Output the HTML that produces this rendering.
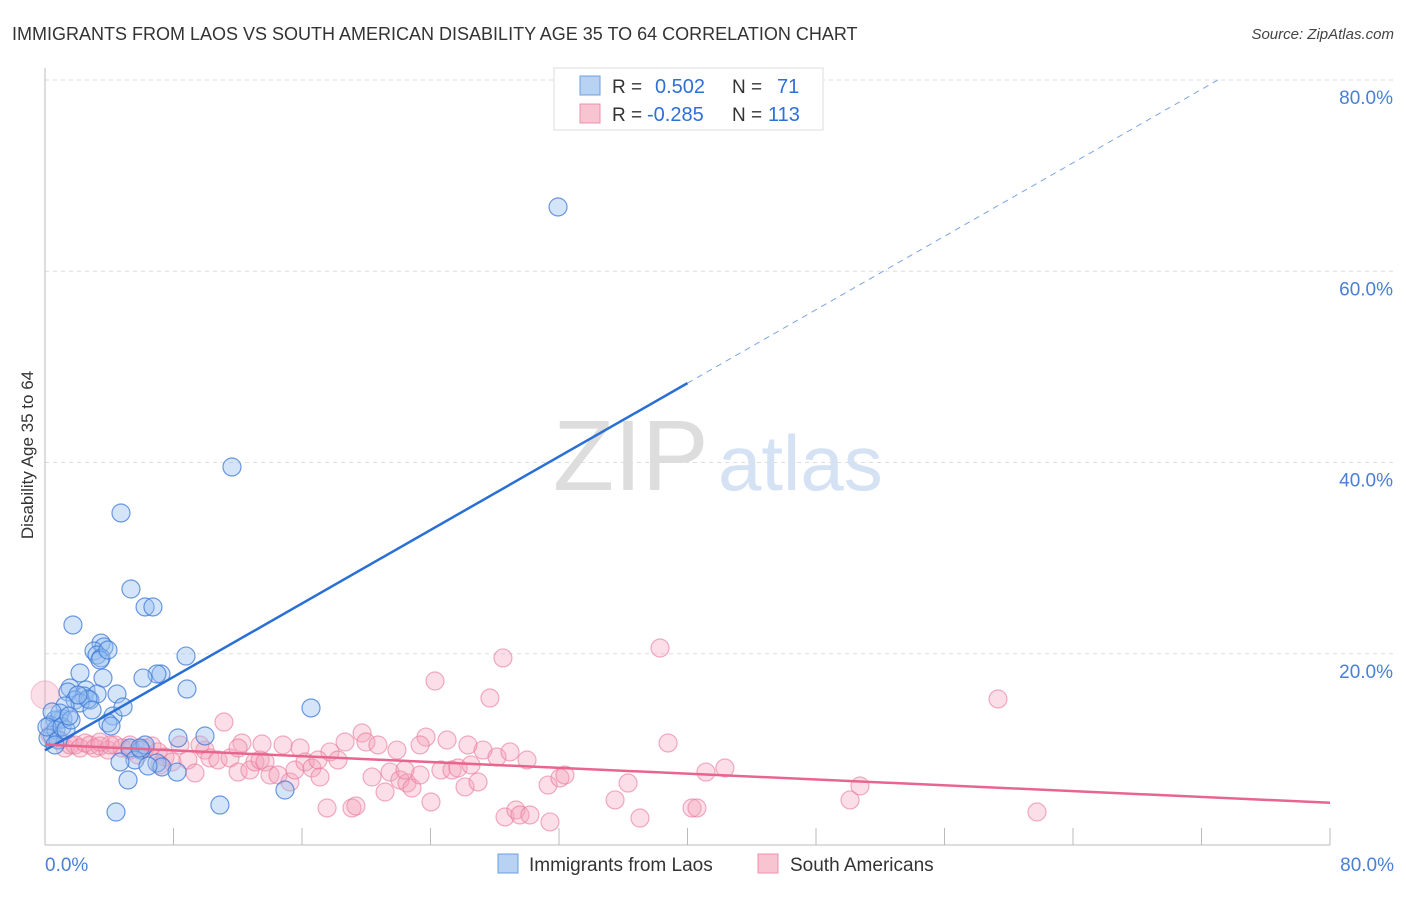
<!DOCTYPE html>
<html><head><meta charset="utf-8"><style>
body{margin:0;background:#fff;font-family:"Liberation Sans",sans-serif}
svg text{font-family:"Liberation Sans",sans-serif}
</style></head><body>
<svg id="c" width="1406" height="892">
<text x="12" y="40" font-size="18" fill="#333">IMMIGRANTS FROM LAOS VS SOUTH AMERICAN DISABILITY AGE 35 TO 64 CORRELATION CHART</text>
<text x="1394" y="39" font-size="15" fill="#444" font-style="italic" text-anchor="end">Source: ZipAtlas.com</text>
<text transform="translate(33,455) rotate(-90)" font-size="17" fill="#333" text-anchor="middle">Disability Age 35 to 64</text>
<g id="wm">
<text x="553" y="490" font-size="100" fill="#ddd" font-family="Liberation Serif">ZIP</text>
<text x="718" y="490" font-size="78" fill="#d4e2f4">atlas</text></g>
<g id="grid"></g><g id="marks"></g>
<g>
<rect x="554" y="68" width="269" height="62" fill="#fff" stroke="#ddd"/>
<rect x="580" y="76" width="20" height="19" fill="#b8d2f4" stroke="#6a9fe0"/>
<rect x="580" y="104" width="20" height="19" fill="#f8c4d2" stroke="#ec8fab"/>
<text x="612" y="93" font-size="19" fill="#333">R =</text>
<text x="655" y="93" font-size="20" fill="#2e6fd8">0.502</text>
<text x="732" y="93" font-size="19" fill="#333">N =</text>
<text x="777" y="93" font-size="20" fill="#2e6fd8">71</text>
<text x="612" y="121" font-size="19" fill="#333">R =</text>
<text x="647" y="121" font-size="20" fill="#2e6fd8">-0.285</text>
<text x="732" y="121" font-size="19" fill="#333">N =</text>
<text x="768" y="121" font-size="20" fill="#2e6fd8">113</text>
</g>
<g>
<rect x="498" y="854" width="20" height="19" fill="#b8d2f4" stroke="#6a9fe0"/>
<text x="529" y="871" font-size="19" fill="#333">Immigrants from Laos</text>
<rect x="758" y="854" width="20" height="19" fill="#f8c4d2" stroke="#ec8fab"/>
<text x="790" y="871" font-size="19" fill="#333">South Americans</text>
</g>
</svg>
<script>
const yTicks=[20,40,60,80];
const yTickLabels=["20.0%","40.0%","60.0%","80.0%"];
const xTicks=[0,8,16,24,32,40,48,56,64,72,80];
const blueFit=[9.9,0.96];
const pinkFit=[10.5,-0.076];
const bluePx=[[558,207],[232,467],[121,513],[131,589],[145,607],[153,607],[73,625],[101,643],[104,647],[94,651],[97,655],[101,658],[80,673],[103,678],[161,674],[157,674],[186,656],[143,678],[70,688],[68,692],[86,690],[84,696],[75,700],[90,700],[97,694],[187,689],[117,694],[80,703],[88,699],[113,716],[108,723],[123,707],[111,726],[65,706],[59,720],[63,719],[55,720],[50,725],[52,735],[56,730],[48,738],[178,738],[205,736],[311,708],[130,748],[141,750],[145,745],[135,760],[157,763],[162,767],[177,772],[148,766],[120,762],[128,780],[220,805],[116,812],[285,790],[140,748],[60,713],[52,712],[58,740],[47,727],[62,727],[66,730],[71,720],[92,710],[69,716],[55,745],[100,660],[108,650],[78,695]];
const pinkPx=[[50,735],[60,740],[65,748],[70,745],[75,745],[80,748],[85,743],[90,745],[95,748],[100,746],[108,750],[115,745],[122,748],[130,750],[138,755],[145,748],[152,746],[158,752],[165,757],[172,762],[180,745],[188,760],[195,773],[205,750],[210,758],[218,760],[224,722],[230,758],[238,772],[242,743],[250,770],[255,762],[260,760],[265,762],[270,775],[278,775],[283,745],[290,782],[295,770],[300,748],[305,762],[312,768],[320,777],[327,808],[330,752],[338,760],[345,742],[352,808],[356,806],[362,733],[366,742],[372,777],[378,745],[385,792],[390,772],[397,750],[400,780],[407,783],[412,788],[420,775],[426,737],[431,802],[435,681],[441,770],[447,740],[452,770],[458,768],[465,787],[471,765],[478,782],[483,750],[490,698],[497,757],[503,658],[505,817],[510,752],[516,810],[520,815],[527,760],[530,815],[550,822],[548,785],[560,778],[615,800],[628,783],[640,818],[660,648],[668,743],[692,808],[697,808],[706,772],[725,768],[850,800],[860,786],[998,699],[1037,812],[238,748],[262,744],[318,760],[405,770],[565,775],[468,745],[420,745],[160,765],[130,745],[200,745],[110,745],[100,742]];
const blueData=bluePx.map(p=>[+((p[0]-45)/16.0625).toFixed(2),+((845-p[1])/9.5625).toFixed(2)]);
const pinkData=pinkPx.map(p=>[+((p[0]-45)/16.0625).toFixed(2),+((845-p[1])/9.5625).toFixed(2)]);
const X=v=>45+v*16.0625, Y=v=>845-v*9.5625;
const NS="http://www.w3.org/2000/svg";
function mk(t,a,parent){const e=document.createElementNS(NS,t);for(const k in a)e.setAttribute(k,a[k]);parent.appendChild(e);return e;}
const g=document.getElementById('grid'),m=document.getElementById('marks');
yTicks.forEach((v,i)=>{
 const l=mk('line',{x1:45,x2:1394,y1:Y(v),y2:Y(v),stroke:'#ddd','stroke-dasharray':'4,4'},g);
 
 
 const t=mk('text',{x:1393,y:Y(v)+24,'font-size':19,fill:'#4a7fd6','text-anchor':'end'},g);
 t.textContent=yTickLabels[i];
 
 
});
const ax=mk('line',{x1:45,x2:1330,y1:845,y2:845,stroke:'#bbb'},g);


const ay=mk('line',{x1:45,x2:45,y1:68,y2:845,stroke:'#bbb'},g);


xTicks.forEach(v=>{const l=mk('line',{x1:X(v),x2:X(v),y1:828,y2:845,stroke:'#bbb'},g);
 
 });
[[0,'0.0%','start',45],[80,'80.0%','end',1394]].forEach(a=>{const t=mk('text',{x:a[3],y:871,'font-size':19,fill:'#4a7fd6','text-anchor':a[2]},g);t.textContent=a[1];
 
 });
pinkData.forEach(p=>{const c=mk('circle',{cx:X(p[0]),cy:Y(p[1]),r:9,fill:'rgba(244,160,185,0.35)',stroke:'rgba(234,120,155,0.6)','stroke-width':1.2},m);
 
 });
const big=mk('circle',{cx:X(0),cy:Y(15.7),r:14,fill:'rgba(244,160,185,0.35)',stroke:'rgba(234,120,155,0.4)'},m);


blueData.forEach(p=>{const c=mk('circle',{cx:X(p[0]),cy:Y(p[1]),r:9,fill:'rgba(150,190,240,0.4)',stroke:'rgba(60,120,215,0.75)','stroke-width':1.2},m);
 
 });
const bf=x=>blueFit[0]+blueFit[1]*x, pf=x=>pinkFit[0]+pinkFit[1]*x;
const xEnd=(80-blueFit[0])/blueFit[1];
let l=mk('line',{x1:X(0),y1:Y(bf(0)),x2:X(40),y2:Y(bf(40)),stroke:'#2a6fd6','stroke-width':2.5},m);


l=mk('line',{x1:X(40),y1:Y(bf(40)),x2:X(xEnd),y2:Y(80),stroke:'#7aa6e6','stroke-width':1,'stroke-dasharray':'6,5'},m);


l=mk('line',{x1:X(0),y1:Y(pf(0)),x2:X(80),y2:Y(pf(80)),stroke:'#e8658f','stroke-width':2.5},m);


</script>
</body></html>
